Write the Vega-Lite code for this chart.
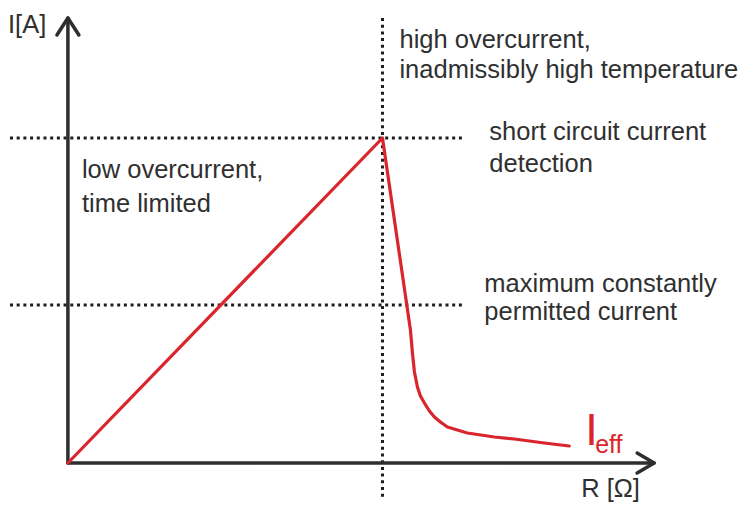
{
  "$schema": "https://vega.github.io/schema/vega-lite/v6.json",
  "width": 738,
  "height": 512,
  "autosize": {"type": "fit", "contains": "padding"},
  "padding": 0,
  "background": "white",
  "config": {"view": {"stroke": null}},
  "datasets": {
    "dotted": [
      {"x": -58, "y": 325, "x2": 397, "y2": 325},
      {"x": -58, "y": 158, "x2": 397, "y2": 158},
      {"x": 315, "y": 445, "x2": 315, "y2": -37}
    ],
    "axes": [
      {"x": 0, "y": 0, "x2": 0, "y2": 444},
      {"x": 0, "y": 445, "x2": -11, "y2": 428},
      {"x": 0, "y": 445, "x2": 11, "y2": 428},
      {"x": 0, "y": 0, "x2": 586, "y2": 0},
      {"x": 587, "y": 0, "x2": 570, "y2": 10},
      {"x": 587, "y": 0, "x2": 570, "y2": -10}
    ],
    "curve": [
      {"i": 0, "r": 0, "a": 0},
      {"i": 1, "r": 315, "a": 325},
      {"i": 2, "r": 343, "a": 133},
      {"i": 3, "r": 345, "a": 110},
      {"i": 4, "r": 347, "a": 91},
      {"i": 5, "r": 350, "a": 76},
      {"i": 6, "r": 353, "a": 67},
      {"i": 7, "r": 357, "a": 60},
      {"i": 8, "r": 362, "a": 52},
      {"i": 9, "r": 367, "a": 46},
      {"i": 10, "r": 373, "a": 41},
      {"i": 11, "r": 380, "a": 36},
      {"i": 12, "r": 390, "a": 33},
      {"i": 13, "r": 400, "a": 30},
      {"i": 14, "r": 427, "a": 26},
      {"i": 15, "r": 447, "a": 24},
      {"i": 16, "r": 477, "a": 20},
      {"i": 17, "r": 502, "a": 17}
    ],
    "labels": [
      {"t": "high overcurrent,", "x": 332, "y": 415},
      {"t": "inadmissibly high temperature", "x": 332, "y": 385},
      {"t": "short circuit current", "x": 422, "y": 323},
      {"t": "detection", "x": 422, "y": 291},
      {"t": "low overcurrent,", "x": 14, "y": 285},
      {"t": "time limited", "x": 14, "y": 251},
      {"t": "maximum constantly", "x": 417, "y": 171},
      {"t": "permitted current", "x": 417, "y": 143},
      {"t": "I[A]", "x": -60, "y": 430},
      {"t": "R [Ω]", "x": 514, "y": -34}
    ],
    "ieff": [
      {"t": "I", "x": 518, "y": 18, "s": 45},
      {"t": "eff", "x": 528, "y": 10, "s": 25}
    ]
  },
  "layer": [
    {
      "data": {"name": "dotted"},
      "mark": {"type": "rule", "color": "#1e1e1e", "strokeWidth": 3, "strokeDash": [3, 3.7]},
      "encoding": {
        "x": {"field": "x", "type": "quantitative", "scale": {"domain": [-68, 670], "nice": false, "zero": false}, "axis": null},
        "y": {"field": "y", "type": "quantitative", "scale": {"domain": [-49, 463], "nice": false, "zero": false}, "axis": null},
        "x2": {"field": "x2"},
        "y2": {"field": "y2"}
      }
    },
    {
      "data": {"name": "axes"},
      "mark": {"type": "rule", "color": "#2e2e2e", "strokeWidth": 3.5, "strokeCap": "round"},
      "encoding": {
        "x": {"field": "x", "type": "quantitative"},
        "y": {"field": "y", "type": "quantitative"},
        "x2": {"field": "x2"},
        "y2": {"field": "y2"}
      }
    },
    {
      "data": {"name": "curve"},
      "mark": {"type": "line", "color": "#d9252b", "strokeWidth": 3.2, "strokeJoin": "round", "strokeCap": "round"},
      "encoding": {
        "x": {"field": "r", "type": "quantitative"},
        "y": {"field": "a", "type": "quantitative"},
        "order": {"field": "i"}
      }
    },
    {
      "data": {"name": "labels"},
      "mark": {"type": "text", "font": "Liberation Sans", "fontSize": 25.5, "color": "#303030", "align": "left", "baseline": "alphabetic"},
      "encoding": {
        "x": {"field": "x", "type": "quantitative"},
        "y": {"field": "y", "type": "quantitative"},
        "text": {"field": "t"}
      }
    },
    {
      "data": {"name": "ieff"},
      "mark": {"type": "text", "font": "Liberation Sans", "color": "#d9252b", "align": "left", "baseline": "alphabetic"},
      "encoding": {
        "x": {"field": "x", "type": "quantitative"},
        "y": {"field": "y", "type": "quantitative"},
        "text": {"field": "t"},
        "size": {"field": "s", "type": "quantitative", "scale": null}
      }
    }
  ]
}
